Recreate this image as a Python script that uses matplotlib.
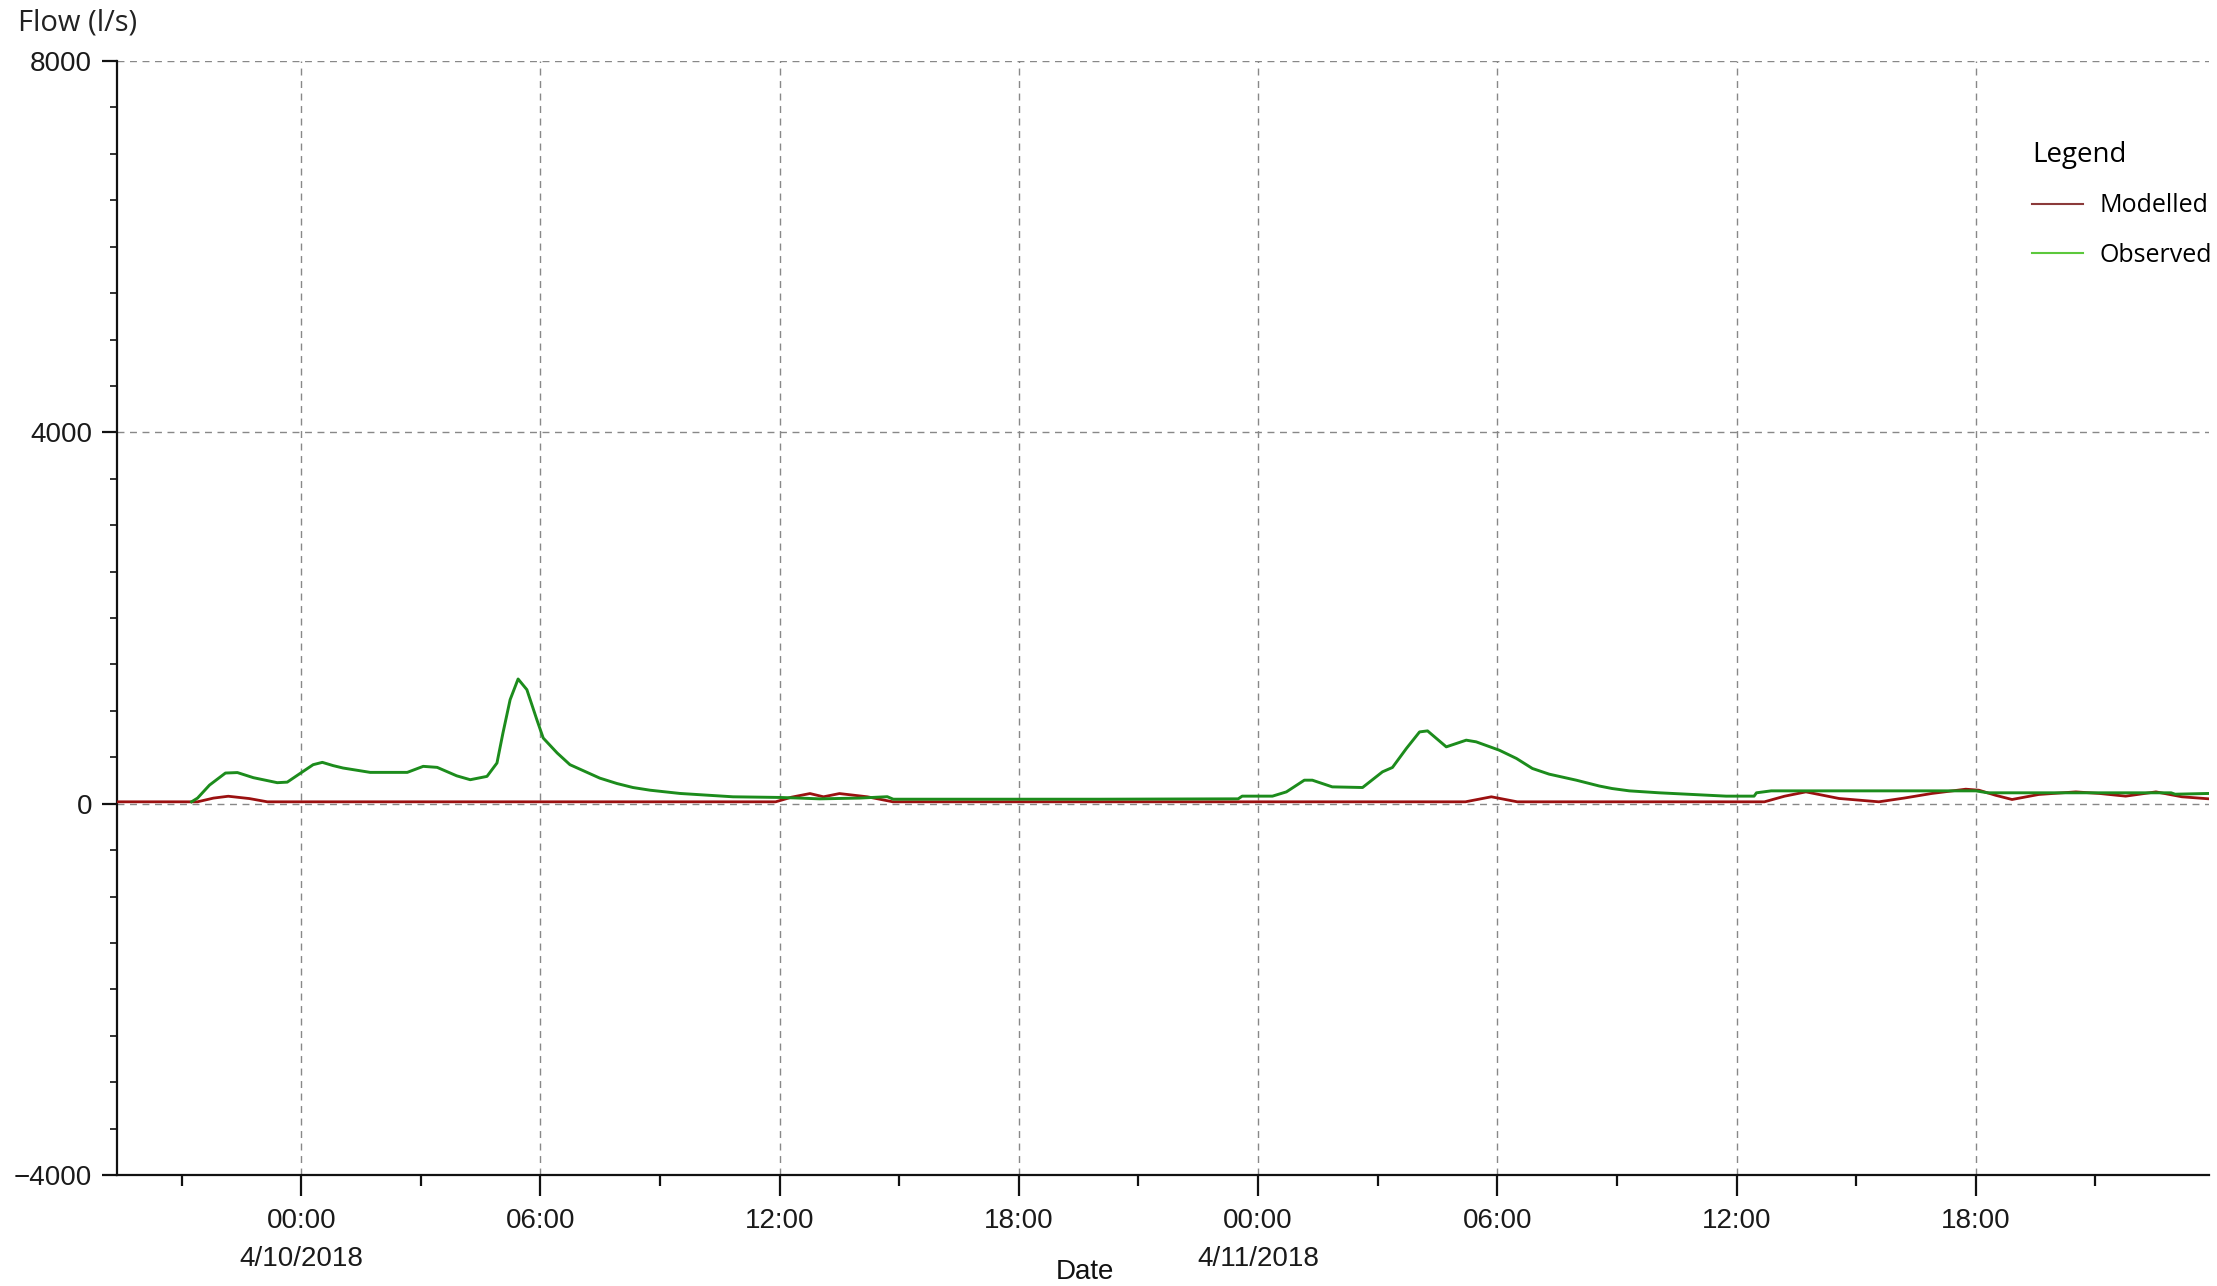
import pandas as pd
import matplotlib
matplotlib.use('Agg')
import matplotlib.pyplot as plt
import matplotlib.dates as mdates
from matplotlib.lines import Line2D
from matplotlib.ticker import FixedLocator, FuncFormatter

# flow series, hours from 4/10/2018 00:00 and flow in l/s
obs_hours = [-2.75, -2.6, -2.3, -1.9, -1.6, -1.2, -0.6, -0.35, 0.05, 0.3, 0.53, 0.8, 1.05,
             1.73, 2.66, 3.06, 3.41, 3.9, 4.24, 4.66, 4.91, 5.06, 5.24, 5.44, 5.66, 5.91,
             6.07, 6.42, 6.74, 7.49, 7.92, 8.32, 8.75, 9.5, 10.83, 12.0, 12.5, 13.0, 14.0,
             14.7, 14.85, 20.0, 23.5, 23.6, 24.36, 24.71, 25.16, 25.36, 25.86, 26.62, 27.12,
             27.37, 27.72, 28.05, 28.25, 28.72, 29.22, 29.47, 30.05, 30.48, 30.88, 31.3,
             31.98, 32.56, 32.88, 33.31, 34.06, 35.74, 36.44, 36.5, 36.87, 42.0, 42.3, 46.9,
             47.0, 47.85]
observed = [20, 60, 200, 330, 335, 280, 226, 232, 348, 420, 445, 410, 384,
            337, 337, 402, 391, 300, 258, 294, 438, 761, 1120, 1343, 1228, 905,
            707, 546, 420, 275, 217, 174, 145, 110, 74, 67, 60, 52, 60,
            75, 48, 48, 52, 81, 81, 127, 253, 253, 181, 174, 343,
            390, 595, 773, 784, 612, 684, 666, 576, 487, 379, 318,
            253, 190, 163, 138, 117, 81, 81, 117, 138, 138, 117, 117,
            102, 110]

mod_hours = [-4.62, -2.6, -2.2, -1.83, -1.3, -0.85, 11.9, 12.3, 12.76, 13.1, 13.5, 14.2,
             14.84, 29.2, 29.85, 30.5, 36.7, 37.2, 37.74, 38.57, 39.57, 40.2, 40.9, 41.75,
             42.08, 42.5, 42.91, 43.58, 44.51, 45.1, 45.76, 46.52, 47.17, 47.85]
modelled = [20, 20, 60, 80, 55, 20, 20, 70, 109, 74, 109, 74,
            20, 20, 74, 20, 20, 80, 127, 56, 20, 60, 110, 156,
            145, 90, 45, 99, 127, 110, 81, 127, 74, 52]

y_ticks = [-4000, 0, 4000, 8000]

day0 = pd.Timestamp('2018-04-10')
obs_t = day0 + pd.to_timedelta(obs_hours, unit='h')
mod_t = day0 + pd.to_timedelta(mod_hours, unit='h')

narrow = ['Liberation Sans Narrow', 'Liberation Sans', 'DejaVu Sans']
ui = ['Open Sans', 'DejaVu Sans']

W, H = 2217, 1286
fig = plt.figure(figsize=(W / 100, H / 100), dpi=100)
ax = fig.add_axes([117 / W, (H - 1175) / H, (2209 - 117) / W, (1175 - 61) / H])

ax.plot(mod_t, modelled, color='#9b1010', lw=2.0, zorder=3)
ax.plot(obs_t, observed, color='#1c8c1c', lw=2.1, zorder=4)

ax.set_xlim(day0 + pd.Timedelta(hours=-4.62), day0 + pd.Timedelta(hours=47.85))
ax.set_ylim(-4000, 8000)

# axes frame
for s in ['top', 'right']:
    ax.spines[s].set_visible(False)
for s in ['left', 'bottom']:
    ax.spines[s].set_linewidth(1.6)
    ax.spines[s].set_color('#111111')

# x ticks: every 6 h labelled, 3 h minor
ax.xaxis.set_major_locator(mdates.HourLocator(byhour=[0, 6, 12, 18]))
ax.xaxis.set_minor_locator(mdates.HourLocator(byhour=[3, 9, 15, 21]))

def fmt_time(x, pos):
    d = mdates.num2date(x)
    if d.hour == 0:
        return '00:00\n%d/%d/%d' % (d.month, d.day, d.year)
    return d.strftime('%H:%M')

ax.xaxis.set_major_formatter(FuncFormatter(fmt_time))
ax.tick_params(axis='x', which='major', length=15, width=1.6, pad=9, color='#111111')
ax.tick_params(axis='x', which='minor', length=8, width=1.6, color='#111111')

ax.yaxis.set_major_locator(FixedLocator(y_ticks))
ax.yaxis.set_minor_locator(FixedLocator(list(range(-4000, 8001, 500))))
ax.tick_params(axis='y', which='major', length=11, width=1.6, pad=7, color='#111111')
ax.tick_params(axis='y', which='minor', length=5, width=1.2, color='#111111')

for lab in ax.get_xticklabels() + ax.get_yticklabels():
    lab.set_family(narrow)
    lab.set_fontsize(20)
    lab.set_color('#1a1a1a')
for lab in ax.get_xticklabels():
    lab.set_linespacing(1.6)

# dashed grid
ax.grid(True, which='major', color='#888888', lw=1.0, linestyle=(0, (5, 4)))
ax.set_axisbelow(True)

fig.text(18 / W, 1 - 23 / H, 'Flow (l/s)', family=ui, fontsize=21, color='#222222',
         ha='left', va='center')
fig.text(1085 / W, 1 - 1272 / H, 'Date', family=narrow, fontsize=20, color='#111111',
         ha='center', va='center')

handles = [Line2D([], [], color='#8b3a3a', lw=1.5),
           Line2D([], [], color='#5cc83c', lw=1.5)]
leg = ax.legend(handles, ['Modelled', 'Observed'], title='Legend', loc='upper left',
                bbox_to_anchor=(2032 / W, 1 - 141 / H), bbox_transform=fig.transFigure,
                frameon=False, borderpad=0, borderaxespad=0, handlelength=2.05,
                handletextpad=0.65, labelspacing=0.98, alignment='left',
                prop={'family': ui, 'size': 18}, title_fontproperties={'family': ui, 'size': 20})

fig.savefig('out.png', dpi=100)
